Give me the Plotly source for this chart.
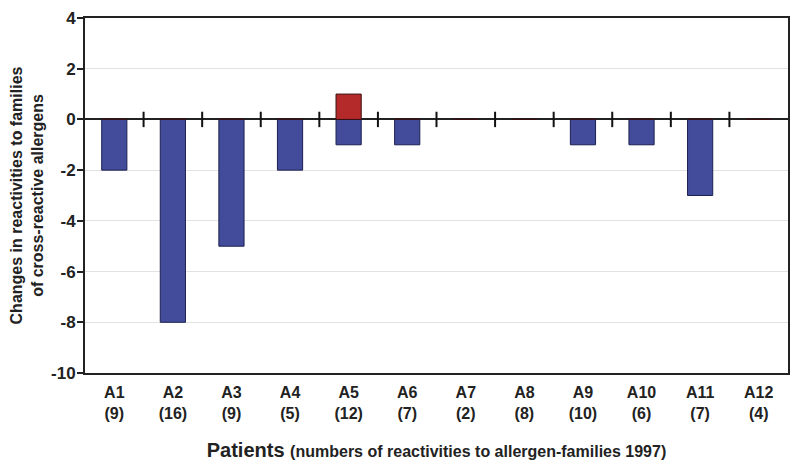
import plotly.graph_objects as go

patients = ["A1", "A2", "A3", "A4", "A5", "A6", "A7", "A8", "A9", "A10", "A11", "A12"]
reactivities_1997 = [9, 16, 9, 5, 12, 7, 2, 8, 10, 6, 7, 4]
decreases = [-2, -8, -5, -2, -1, -1, 0, 0, -1, -1, -3, 0]
increases = [0, 0, 0, 0, 1, 0, 0, 0, 0, 0, 0, 0]
y_ticks = [4, 2, 0, -2, -4, -6, -8, -10]

tick_text = [f"<b>{p}<br>({n})</b>" for p, n in zip(patients, reactivities_1997)]
y_tick_text = [f"<b>{v}</b>" for v in y_ticks]  # plain hyphen, not unicode minus
x_pos = list(range(len(patients)))
boundaries = [i + 0.5 for i in x_pos[:-1]]

fig = go.Figure()
fig.add_trace(go.Bar(
    x=x_pos, y=decreases, width=0.43,
    marker=dict(color="#434C9B", line=dict(color="#1c2150", width=1)),
    showlegend=False, hoverinfo="skip",
))
fig.add_trace(go.Bar(
    x=x_pos, y=increases, width=0.43,
    marker=dict(color="#B42A2A", line=dict(color="#3a1010", width=1)),
    showlegend=False, hoverinfo="skip",
))
# small category separators crossing the zero line
fig.add_trace(go.Scatter(
    x=boundaries, y=[0] * len(boundaries), mode="markers",
    marker=dict(symbol="line-ns", size=11, line=dict(color="#111111", width=2)),
    showlegend=False, hoverinfo="skip",
))

# the page body adds ~8px offset, margins compensate for it
fig.update_layout(
    width=800, height=467,
    margin=dict(l=77, r=20, t=10, b=102),
    paper_bgcolor="white", plot_bgcolor="white",
    barmode="relative",
    font=dict(family="Liberation Sans, Arial, sans-serif", color="#222222"),
)
fig.update_xaxes(
    range=[-0.5, 11.5], automargin=False,
    tickmode="array", tickvals=x_pos, ticktext=tick_text,
    tickfont=dict(size=16), ticks="", ticklabelstandoff=4,
    showline=True, linecolor="#222222", linewidth=2, mirror=True,
    showgrid=False, zeroline=False,
    title=dict(
        text="<b>Patients</b> <b><span style='font-size:16px'>(numbers of reactivities to allergen-families 1997)</span></b>",
        font=dict(size=20), standoff=22,
    ),
)
fig.update_yaxes(
    range=[-10, 4], automargin=False,
    tickmode="array", tickvals=y_ticks, ticktext=y_tick_text,
    tickfont=dict(size=17), ticklabelstandoff=-2,
    ticks="outside", ticklen=6, tickwidth=2, tickcolor="#222222",
    showline=True, linecolor="#222222", linewidth=2, mirror=True,
    showgrid=True, gridcolor="#e2e2e2", gridwidth=1,
    zeroline=True, zerolinecolor="#222222", zerolinewidth=2,
    title=dict(
        text="<b>Changes in reactivities to families<br>of cross-reactive allergens</b>",
        font=dict(size=16), standoff=5,
    ),
)

fig.write_html("out.html")
